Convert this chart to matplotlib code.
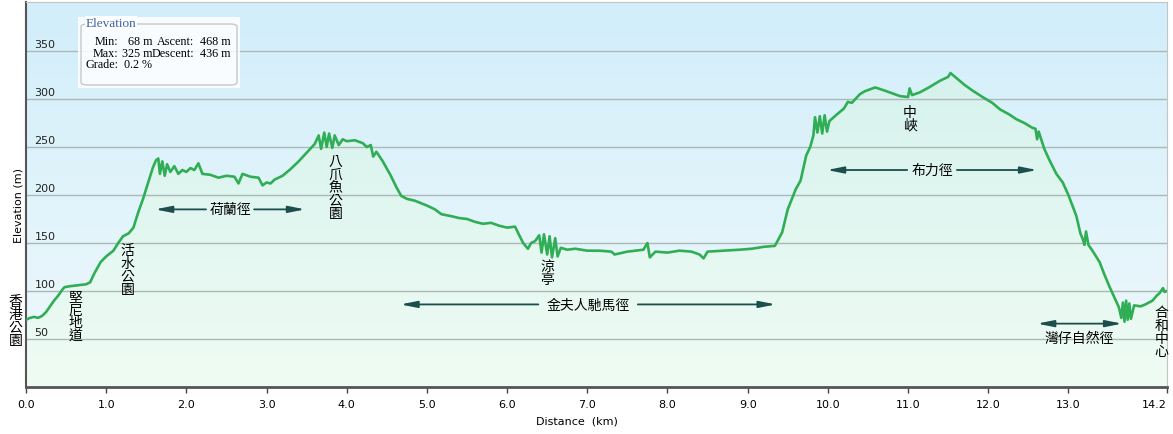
import numpy as np
import matplotlib
matplotlib.use("Agg")
import matplotlib.pyplot as plt
from matplotlib.colors import LinearSegmentedColormap
from matplotlib.patches import Polygon, FancyBboxPatch, Rectangle

# elevation profile (km, m)
dist = [0.00, 0.05, 0.10, 0.15, 0.20, 0.25, 0.30, 0.35, 0.40, 0.45, 0.48, 0.55, 0.65, 0.75,
        0.80, 0.85, 0.93, 1.00, 1.09, 1.15, 1.21, 1.28, 1.34, 1.40, 1.46, 1.52, 1.58, 1.62,
        1.65, 1.67, 1.70, 1.73, 1.76, 1.80, 1.85, 1.90, 1.95, 2.00, 2.05, 2.10, 2.15, 2.20,
        2.30, 2.40, 2.50, 2.60, 2.65, 2.70, 2.80, 2.90, 2.95, 3.00, 3.05, 3.10, 3.20, 3.30,
        3.40, 3.50, 3.60, 3.65, 3.68, 3.72, 3.75, 3.78, 3.82, 3.85, 3.90, 3.95, 4.00, 4.10,
        4.20, 4.25, 4.30, 4.33, 4.37, 4.45, 4.55, 4.62, 4.68, 4.75, 4.85, 5.00, 5.10, 5.18,
        5.30, 5.40, 5.50, 5.60, 5.70, 5.80, 5.90, 6.00, 6.10, 6.14, 6.20, 6.26, 6.30, 6.35,
        6.40, 6.43, 6.46, 6.50, 6.53, 6.56, 6.60, 6.63, 6.67, 6.75, 6.85, 7.00, 7.15, 7.30,
        7.34, 7.50, 7.60, 7.70, 7.75, 7.78, 7.85, 8.00, 8.15, 8.30, 8.40, 8.45, 8.50, 8.70,
        8.90, 9.05, 9.20, 9.34, 9.43, 9.50, 9.60, 9.66, 9.73, 9.78, 9.82, 9.84, 9.87, 9.90,
        9.93, 9.96, 9.99, 10.02, 10.10, 10.20, 10.25, 10.30, 10.40, 10.46, 10.59, 10.70,
        10.80, 10.90, 11.00, 11.02, 11.05, 11.15, 11.26, 11.40, 11.50, 11.53, 11.60, 11.70,
        11.80, 11.93, 12.05, 12.15, 12.26, 12.35, 12.45, 12.55, 12.59, 12.61, 12.63, 12.70,
        12.76, 12.85, 12.93, 13.00, 13.10, 13.15, 13.18, 13.20, 13.22, 13.25, 13.30, 13.39,
        13.45, 13.51, 13.57, 13.63, 13.66, 13.68, 13.70, 13.72, 13.74, 13.76, 13.78, 13.82,
        13.90, 13.96, 14.05, 14.10, 14.14, 14.18, 14.20, 14.23]
elev = [70, 72, 73, 72, 74, 78, 84, 90, 95, 101, 104, 105, 106, 107,
        109, 118, 130, 136, 142, 150, 157, 160, 166, 182, 196, 212, 228, 236,
        238, 222, 235, 220, 232, 224, 230, 222, 226, 224, 228, 226, 233, 222,
        221, 218, 220, 219, 212, 222, 219, 218, 210, 213, 212, 216, 220, 227,
        235, 244, 253, 262, 248, 265, 250, 264, 249, 262, 252, 258, 256, 257,
        254, 250, 252, 240, 245, 235, 220, 208, 199, 196, 194, 189, 185, 180,
        178, 176, 175, 172, 170, 171, 168, 166, 167, 160, 150, 144, 150, 152,
        158, 140, 159, 138, 157, 135, 155, 136, 145, 143, 144, 142, 142, 141,
        138, 141, 142, 143, 150, 135, 141, 140, 142, 141, 138, 134, 141, 142,
        143, 144, 146, 147, 161, 185, 206, 215, 241, 250, 262, 281, 265, 282,
        264, 283, 266, 277, 283, 290, 297, 296, 305, 308, 312, 309,
        306, 303, 302, 311, 304, 307, 312, 319, 323, 327, 322, 315,
        309, 302, 296, 289, 284, 279, 275, 270, 269, 258, 266, 248,
        237, 222, 213, 200, 178, 160, 154, 148, 162, 148, 142, 130,
        117, 105, 94, 83, 72, 88, 68, 90, 70, 87, 71, 85,
        84, 86, 90, 95, 98, 103, 99, 100]

xticks = [0, 1, 2, 3, 4, 5, 6, 7, 8, 9, 10, 11, 12, 13, 14.23]
xtick_labels = ["0.0", "1.0", "2.0", "3.0", "4.0", "5.0", "6.0", "7.0", "8.0", "9.0",
                "10.0", "11.0", "12.0", "13.0", "14.2"]
yticks = [50, 100, 150, 200, 250, 300, 350]

# place names (vertical) and trail names (arrows)
places = [("香港公園", -0.13, 69), ("堅尼地道", 0.62, 74), ("活水公園", 1.27, 122),
          ("八爪魚公園", 3.86, 208), ("涼亭", 6.50, 119), ("中峽", 11.02, 280),
          ("合和中心", 14.16, 58)]
trails = [("荷蘭徑", 1.61, 3.48, 185, 0.30), ("金夫人馳馬徑", 4.67, 9.35, 86, 0.62),
          ("布力徑", 9.99, 12.61, 226, 0.31)]

cjk = ["Noto Sans CJK TC", "DejaVu Sans"]
W, H = 1173, 435

fig = plt.figure(figsize=(11.73, 4.35), dpi=100)
ax = fig.add_axes([26 / W, 1 - 388 / H, (1167 - 26) / W, (388 - 3) / H])
xmax = 14.23
ax.set_xlim(0, xmax)
ax.set_ylim(0, 401)

# sky background
bg = LinearSegmentedColormap.from_list("bg", ["#f0f9fc", "#d1eefa"])
grad = np.linspace(0, 1, 256).reshape(-1, 1)
ax.imshow(grad, extent=[0, xmax, 0, 401], aspect="auto", origin="lower", cmap=bg, zorder=0)

# green fill under the profile
fg = LinearSegmentedColormap.from_list("fg", ["#effcf4", "#d6f2ed"])
im = ax.imshow(grad, extent=[0, xmax, 0, 330], aspect="auto", origin="lower", cmap=fg, zorder=1)
verts = np.column_stack([np.r_[dist[0], dist, dist[-1]], np.r_[0, elev, 0]])
poly = Polygon(verts, closed=True, facecolor="none", edgecolor="none", transform=ax.transData)
ax.add_patch(poly)
im.set_clip_path(poly)

for v in yticks:
    ax.axhline(v, color="#aab8b8", lw=1, zorder=2)
    ax.annotate(str(v), xy=(0, v), xycoords=("axes fraction", "data"), xytext=(6, 1.5),
                textcoords="offset points", ha="left", va="bottom", fontsize=8, color="#222222")

ax.plot(dist, elev, color="#2fae55", lw=1.9, zorder=3)

ax.set_xticks(xticks)
ax.set_xticklabels(xtick_labels, fontsize=8)
ax.get_xticklabels()[-1].set_horizontalalignment("right")
ax.set_yticks([])
ax.tick_params(axis="x", direction="out", length=4, width=1, color="#444444", pad=5)
ax.set_xlabel("Distance  (km)", fontsize=8)
ax.xaxis.set_label_coords((577 - 26) / (1167 - 26), -0.075)
ax.set_ylabel("Elevation (m)", fontsize=8)
ax.yaxis.set_label_coords(-0.002, 0.475)

ax.spines["left"].set_color("#555555")
ax.spines["left"].set_linewidth(1.5)
ax.spines["bottom"].set_color("#555555")
ax.spines["bottom"].set_linewidth(2)
ax.spines["top"].set_color("#c4c4c4")
ax.spines["right"].set_color("#c4c4c4")

arrow_kw = dict(arrowstyle="-|>,head_length=1.1,head_width=0.22", color="#1d4e4e", lw=1.3,
                mutation_scale=9, shrinkA=0, shrinkB=0)


def vtext(label, x, y, size=10):
    n = len(label)
    pitch = 9.4
    for i, ch in enumerate(label):
        off = ((n - 1) / 2 - i) * pitch
        ax.annotate(ch, xy=(x, y), xytext=(0, off), textcoords="offset points",
                    ha="center", va="center", fontsize=size, family=cjk,
                    annotation_clip=False, zorder=5)


for name, x, y in places:
    vtext(name, x, y)

for name, x0, x1, y, gap in trails:
    xc = (x0 + x1) / 2
    ax.annotate("", xy=(x0, y), xytext=(xc - gap, y), arrowprops=arrow_kw, zorder=4)
    ax.annotate("", xy=(x1, y), xytext=(xc + gap, y), arrowprops=arrow_kw, zorder=4)
    ax.text(xc, y, name, ha="center", va="center", fontsize=10, family=cjk, zorder=5)

# 灣仔自然徑: full arrow, label below
ax.annotate("", xy=(12.61, 66), xytext=(13.67, 66),
            arrowprops=dict(arrow_kw, arrowstyle="<|-|>,head_length=1.1,head_width=0.22"), zorder=4)
ax.text(13.14, 51, "灣仔自然徑", ha="center", va="center", fontsize=10, family=cjk, zorder=5)

# stats box
def fx(p):
    return p / W


def fy(p):
    return 1 - p / H


fig.add_artist(Rectangle((fx(78), fy(89)), fx(240) - fx(78), fy(18) - fy(89),
                         transform=fig.transFigure, facecolor="white", alpha=0.85,
                         edgecolor="none", zorder=6))
fig.add_artist(FancyBboxPatch((fx(81), fy(86)), fx(237) - fx(81), fy(25) - fy(86),
                              boxstyle="round,pad=0,rounding_size=0.006",
                              transform=fig.transFigure, facecolor="none",
                              edgecolor="#c8c8c8", lw=1, zorder=7))
serif = "Liberation Serif"
fs = 8.7
fig.text(fx(86), fy(24), "Elevation", color="#3a62a8", fontsize=9.5, family=serif,
         ha="left", va="center", zorder=8,
         bbox=dict(facecolor="white", edgecolor="none", pad=0.5))
rows = [("Min:", "68 m", "Ascent:", "468 m", 42), ("Max:", "325 m", "Descent:", "436 m", 54)]
for a, b, c, d, yy in rows:
    fig.text(fx(118), fy(yy), a, fontsize=fs, family=serif, ha="right", va="center", zorder=8)
    fig.text(fx(152), fy(yy), b, fontsize=fs, family=serif, ha="right", va="center", zorder=8)
    fig.text(fx(194), fy(yy), c, fontsize=fs, family=serif, ha="right", va="center", zorder=8)
    fig.text(fx(231), fy(yy), d, fontsize=fs, family=serif, ha="right", va="center", zorder=8)
fig.text(fx(85), fy(65), "Grade:", fontsize=fs, family=serif, ha="left", va="center", zorder=8)
fig.text(fx(152), fy(65), "0.2 %", fontsize=fs, family=serif, ha="right", va="center", zorder=8)

fig.savefig("out.png", dpi=100)
